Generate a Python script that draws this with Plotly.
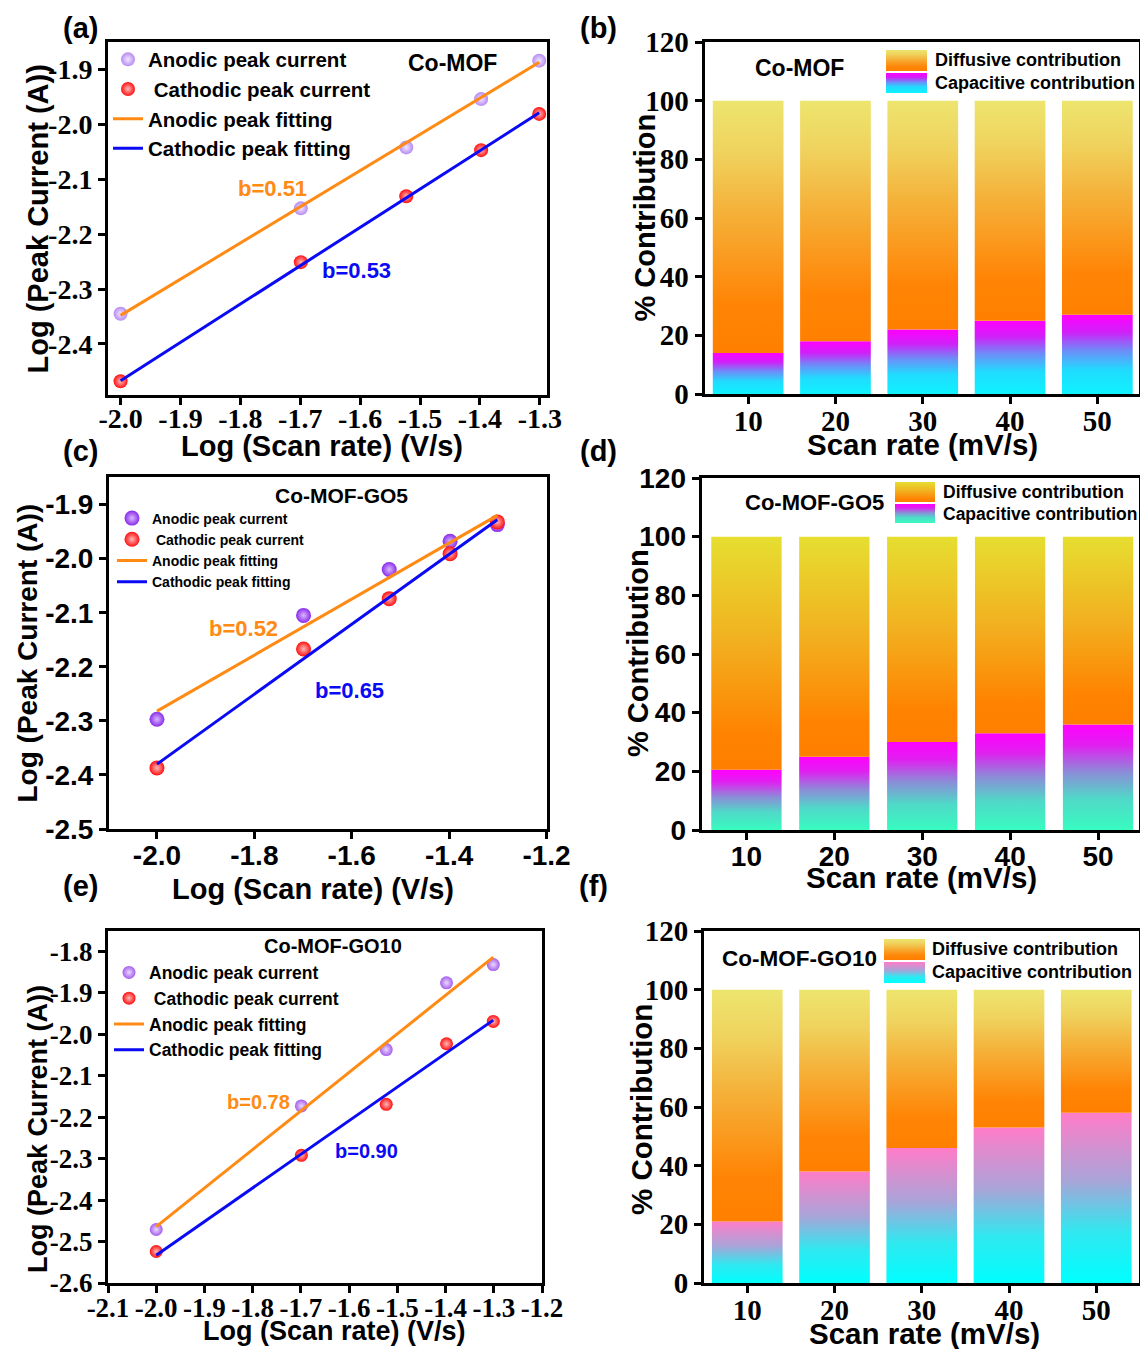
import plotly.graph_objects as go

W, H = 1140, 1349

# ---------------- data ----------------
log_scan_rate = [-2.0, -1.699, -1.523, -1.398, -1.301]      # Log (Scan rate) (V/s)
scan_rate_mVs = [10, 20, 30, 40, 50]                         # Scan rate (mV/s)
fit_x = [-2.0, -1.301]

# (a) Co-MOF
a_anodic = [-2.345, -2.153, -2.042, -1.954, -1.884]
a_cathodic = [-2.468, -2.251, -2.131, -2.047, -1.981]
a_anodic_fit = [-2.348, -1.887]
a_cathodic_fit = [-2.467, -1.979]

# (c) Co-MOF-GO5
c_anodic = [-2.297, -2.105, -2.020, -1.968, -1.937]
c_cathodic = [-2.387, -2.167, -2.074, -1.991, -1.932]
c_anodic_fit = [-2.282, -1.920]
c_cathodic_fit = [-2.380, -1.928]

# (e) Co-MOF-GO10
e_anodic = [-2.471, -2.173, -2.037, -1.876, -1.832]
e_cathodic = [-2.524, -2.292, -2.169, -2.023, -1.969]
e_anodic_fit = [-2.464, -1.814]
e_cathodic_fit = [-2.533, -1.966]

# (b), (d), (f) contributions (%)
b_capacitive = [14, 18, 22, 25, 27]
b_diffusive = [86, 82, 78, 75, 73]
d_capacitive = [20.5, 25, 30, 33, 36]
d_diffusive = [79.5, 75, 70, 67, 64]
f_capacitive = [21, 38, 46, 53, 58]
f_diffusive = [79, 62, 54, 47, 42]

# tick values
a_xticks = [-2.0, -1.9, -1.8, -1.7, -1.6, -1.5, -1.4, -1.3]
a_yticks = [-2.4, -2.3, -2.2, -2.1, -2.0, -1.9]
c_xticks = [-2.0, -1.8, -1.6, -1.4, -1.2]
c_yticks = [-2.5, -2.4, -2.3, -2.2, -2.1, -2.0, -1.9]
e_xticks = [-2.1, -2.0, -1.9, -1.8, -1.7, -1.6, -1.5, -1.4, -1.3, -1.2]
e_yticks = [-2.6, -2.5, -2.4, -2.3, -2.2, -2.1, -2.0, -1.9, -1.8]
bar_yticks = [0, 20, 40, 60, 80, 100, 120]

legend_names = ["Anodic peak current", " Cathodic peak current",
                "Anodic peak fitting", "Cathodic peak fitting"]
b_values = {"a": ("b=0.51", "b=0.53"), "c": ("b=0.52", "b=0.65"), "e": ("b=0.78", "b=0.90")}
sample_names = {"a": "Co-MOF", "b": "Co-MOF", "c": "Co-MOF-GO5", "d": "Co-MOF-GO5",
                "e": "Co-MOF-GO10", "f": "Co-MOF-GO10"}

# ---------------- styles ----------------
SANS = "Liberation Sans, Arial, sans-serif"
SERIF = "Liberation Serif, Times New Roman, serif"
ORANGE = "#FF8A14"
BLUE = "#0A0AF5"
RED = "#FF1010"

DIF_SCALE = [[0, "#FF8000"], [0.2, "#FF8506"], [0.55, "#F5B038"], [0.8, "#EFD35E"], [1, "#EDE56E"]]
DIF_SCALE_D = [[0, "#FF8000"], [0.15, "#FF8200"], [0.55, "#F2B020"], [1, "#E6DE30"]]
CAP_SCALE_B = [[0, "#0FF2FF"], [0.3, "#20DCFF"], [0.55, "#6E8CF8"], [0.78, "#D020F8"], [1, "#FF00FF"]]
CAP_SCALE_D = [[0, "#38FCC0"], [0.3, "#50D8C8"], [0.55, "#8C8CD8"], [0.8, "#E020F0"], [1, "#FF00FF"]]
CAP_SCALE_F = [[0, "#00FFFF"], [0.3, "#30E8F0"], [0.6, "#A8A4D8"], [1, "#FF7CC8"]]


def xd(l, r):
    return [l / W, r / W]


def yd(t, b):
    return [1 - b / H, 1 - t / H]


fig = go.Figure()
annotations = []


def ann(text, px, py, size, color="black", family=SANS, angle=0, xanchor="center"):
    annotations.append(dict(text=text, x=px / W, y=1 - py / H, xref="paper", yref="paper",
                            showarrow=False, xanchor=xanchor, yanchor="middle", textangle=angle,
                            font=dict(family=family, size=size, color=color, weight="bold")))


def axis(domain, rng, tickvals, ticktext, font, size, anchor, standoff):
    return dict(domain=domain, range=rng, tickmode="array", tickvals=tickvals, ticktext=ticktext,
                showline=True, linecolor="black", linewidth=3, mirror=True,
                ticks="outside", ticklen=7, tickwidth=3, tickcolor="black",
                showgrid=False, zeroline=False, anchor=anchor, ticklabelstandoff=standoff,
                tickfont=dict(family=font, size=size, color="black", weight="bold"))


def fmt(v):
    return f"{v:.1f}"


# ---------------- scatter panels ----------------
scatter_panels = [
    dict(key="a", n=1, legend="legend", x=xd(108, 547), y=yd(42, 395),
         xr=[-2.021, -1.288], yr=[-2.493, -1.850], xt=a_xticks, yt=a_yticks,
         font=SERIF, fs=28, xso=-11, an=a_anodic, ca=a_cathodic, anf=a_anodic_fit, caf=a_cathodic_fit,
         acolor="#B68BF2", agrad="#F3E6FF", msize=14,
         legend_pos=(108, 39.5), legend_fs=20.5,
         name_pos=(452, 63, 23), b1=(272, 188, 22), b2=(357, 270, 22),
         ytitle=(37.5, 219, 29), xtitle=(322, 446, 29), label=(80, 28)),
    dict(key="c", n=3, legend="legend2", x=xd(109, 546.5), y=yd(477, 829),
         xr=[-2.0985, -1.2], yr=[-2.5, -1.849], xt=c_xticks, yt=c_yticks,
         font=SANS, fs=28, xso=-8, an=c_anodic, ca=c_cathodic, anf=c_anodic_fit, caf=c_cathodic_fit,
         acolor="#8A2BEA", agrad="#D9B8FF", msize=15,
         legend_pos=(112, 502.5), legend_fs=14,
         name_pos=(341, 495, 21), b1=(243.5, 629, 22), b2=(349, 690, 22),
         ytitle=(26.5, 653, 28), xtitle=(313, 889, 29), label=(80, 451)),
    dict(key="e", n=5, legend="legend3", x=xd(108, 542), y=yd(931, 1283),
         xr=[-2.1, -1.2], yr=[-2.6, -1.751], xt=e_xticks, yt=e_yticks,
         font=SERIF, fs=27, xso=-8, an=e_anodic, ca=e_cathodic, anf=e_anodic_fit, caf=e_cathodic_fit,
         acolor="#A55EEA", agrad="#EAD8FF", msize=13,
         legend_pos=(109, 954.5), legend_fs=17.5,
         name_pos=(333, 946, 20), b1=(258.6, 1102, 20), b2=(366, 1151, 20),
         ytitle=(38, 1129, 27), xtitle=(334, 1331, 27), label=(80, 886)),
]

layout_axes = {}
for p in scatter_panels:
    n = p["n"]
    xa, ya = f"x{n}", f"y{n}"
    layout_axes[f"xaxis{n}"] = axis(p["x"], p["xr"], p["xt"], [fmt(v) for v in p["xt"]], p["font"], p["fs"], ya, p["xso"])
    layout_axes[f"yaxis{n}"] = axis(p["y"], p["yr"], p["yt"], [fmt(v) for v in p["yt"]], p["font"], p["fs"], xa, 0)
    fig.add_trace(go.Scatter(x=log_scan_rate, y=p["an"], mode="markers", name=legend_names[0],
                             marker=dict(size=p["msize"], color=p["acolor"], line=dict(width=0),
                                         gradient=dict(type="radial", color=p["agrad"])),
                             xaxis=xa, yaxis=ya, legend=p["legend"]))
    fig.add_trace(go.Scatter(x=log_scan_rate, y=p["ca"], mode="markers", name=legend_names[1],
                             marker=dict(size=p["msize"], color=RED, line=dict(width=0),
                                         gradient=dict(type="radial", color="#FFB8B8")),
                             xaxis=xa, yaxis=ya, legend=p["legend"]))
    fig.add_trace(go.Scatter(x=fit_x, y=p["anf"], mode="lines", name=legend_names[2],
                             line=dict(color=ORANGE, width=3), xaxis=xa, yaxis=ya, legend=p["legend"]))
    fig.add_trace(go.Scatter(x=fit_x, y=p["caf"], mode="lines", name=legend_names[3],
                             line=dict(color=BLUE, width=3), xaxis=xa, yaxis=ya, legend=p["legend"]))
    lx, ly = p["legend_pos"]
    layout_axes[p["legend"]] = dict(x=lx / W, y=1 - ly / H, xanchor="left", yanchor="top",
                                    bgcolor="rgba(0,0,0,0)", borderwidth=0, tracegroupgap=0,
                                    font=dict(family=SANS, size=p["legend_fs"], color="black", weight="bold"))
    k = p["key"]
    ann(sample_names[k], *p["name_pos"])
    ann(b_values[k][0], p["b1"][0], p["b1"][1], p["b1"][2], color=ORANGE)
    ann(b_values[k][1], p["b2"][0], p["b2"][1], p["b2"][2], color=BLUE)
    ann("Log (Peak Current (A))", p["ytitle"][0], p["ytitle"][1], p["ytitle"][2], angle=-90)
    ann("Log (Scan rate) (V/s)", p["xtitle"][0], p["xtitle"][1], p["xtitle"][2])
    ann(f"({k})", p["label"][0], p["label"][1], 29)

# ---------------- bar panels ----------------
bar_panels = [
    dict(key="b", n=2, x=xd(704.5, 1139), y=yd(42, 394), xr=[5.0, 54.77], width=8.1,
         font=SERIF, fs=29, cap=b_capacitive, dif=b_diffusive, cs=CAP_SCALE_B, ds=DIF_SCALE,
         name_pos=(799.5, 68, 23), sw=(886, 927, 50, 71, 73, 93), lt=(932.5, 60, 82.7, 18),
         ytitle=(644.5, 218, 29), xtitle=(922.7, 444, 29.5), label=(598, 28)),
    dict(key="d", n=4, x=xd(701.6, 1139), y=yd(478, 830), xr=[4.9, 54.66], width=8.0,
         font=SANS, fs=28, cap=d_capacitive, dif=d_diffusive, cs=CAP_SCALE_D, ds=DIF_SCALE_D,
         name_pos=(814.5, 502.7, 22), sw=(895, 935, 482, 502, 504, 523), lt=(941, 491.5, 513.5, 17.5),
         ytitle=(638, 653, 29), xtitle=(921.8, 877, 29.5), label=(598, 451)),
    dict(key="f", n=6, x=xd(704, 1139), y=yd(931, 1283), xr=[5.04, 54.9], width=8.1,
         font=SERIF, fs=29, cap=f_capacitive, dif=f_diffusive, cs=CAP_SCALE_F, ds=DIF_SCALE,
         name_pos=(799.6, 958, 22.5), sw=(884, 925, 939, 960, 962, 983), lt=(930, 949, 971.7, 18),
         ytitle=(641, 1110, 29.5), xtitle=(924.5, 1333, 29.5), label=(593, 886)),
]

for p in bar_panels:
    n = p["n"]
    xa, ya = f"x{n}", f"y{n}"
    layout_axes[f"xaxis{n}"] = axis(p["x"], p["xr"], scan_rate_mVs, [str(v) for v in scan_rate_mVs], p["font"], p["fs"], ya, -8)
    layout_axes[f"yaxis{n}"] = axis(p["y"], [0, 120], bar_yticks, [str(v) for v in bar_yticks], p["font"], p["fs"], xa, 0)
    hw = p["width"] / 2
    for xv, c, d in zip(scan_rate_mVs, p["cap"], p["dif"]):
        x0, x1 = xv - hw, xv + hw
        fig.add_trace(go.Scatter(x=[x0, x1, x1, x0, x0], y=[0, 0, c, c, 0], mode="lines",
                                 fill="toself", line=dict(width=0, color="rgba(0,0,0,0)"),
                                 fillgradient=dict(type="vertical", colorscale=p["cs"], start=0, stop=c),
                                 xaxis=xa, yaxis=ya, showlegend=False, hoverinfo="skip"))
        fig.add_trace(go.Scatter(x=[x0, x1, x1, x0, x0], y=[c, c, c + d, c + d, c], mode="lines",
                                 fill="toself", line=dict(width=0, color="rgba(0,0,0,0)"),
                                 fillgradient=dict(type="vertical", colorscale=p["ds"], start=c, stop=c + d),
                                 xaxis=xa, yaxis=ya, showlegend=False, hoverinfo="skip"))
    # legend swatches on a pixel overlay axis
    l, r, t1, b1, t2, b2 = p["sw"]
    for (t, b, sc) in [(t1, b1, p["ds"]), (t2, b2, p["cs"])]:
        fig.add_trace(go.Scatter(x=[l, r, r, l, l], y=[b, b, t, t, b], mode="lines", fill="toself",
                                 line=dict(width=0, color="rgba(0,0,0,0)"),
                                 fillgradient=dict(type="vertical", colorscale=sc, start=b, stop=t),
                                 xaxis="x7", yaxis="y7", showlegend=False, hoverinfo="skip"))
    tx, ty1, ty2, tfs = p["lt"]
    ann("Diffusive contribution", tx, ty1, tfs, xanchor="left")
    ann("Capacitive contribution", tx, ty2, tfs, xanchor="left")
    k = p["key"]
    ann(sample_names[k], *p["name_pos"])
    ann("% Contribution", p["ytitle"][0], p["ytitle"][1], p["ytitle"][2], angle=-90)
    ann("Scan rate (mV/s)", p["xtitle"][0], p["xtitle"][1], p["xtitle"][2])
    ann(f"({k})", p["label"][0], p["label"][1], 29)

layout_axes["xaxis7"] = dict(domain=[0, 1], range=[0, W], visible=False, anchor="y7", fixedrange=True)
layout_axes["yaxis7"] = dict(domain=[0, 1], range=[H, 0], visible=False, anchor="x7", fixedrange=True)

fig.update_layout(width=W, height=H, margin=dict(l=0, r=0, t=0, b=0, autoexpand=False),
                  paper_bgcolor="white", plot_bgcolor="rgba(0,0,0,0)",
                  showlegend=True, annotations=annotations, **layout_axes)

fig.write_html("out.html")
